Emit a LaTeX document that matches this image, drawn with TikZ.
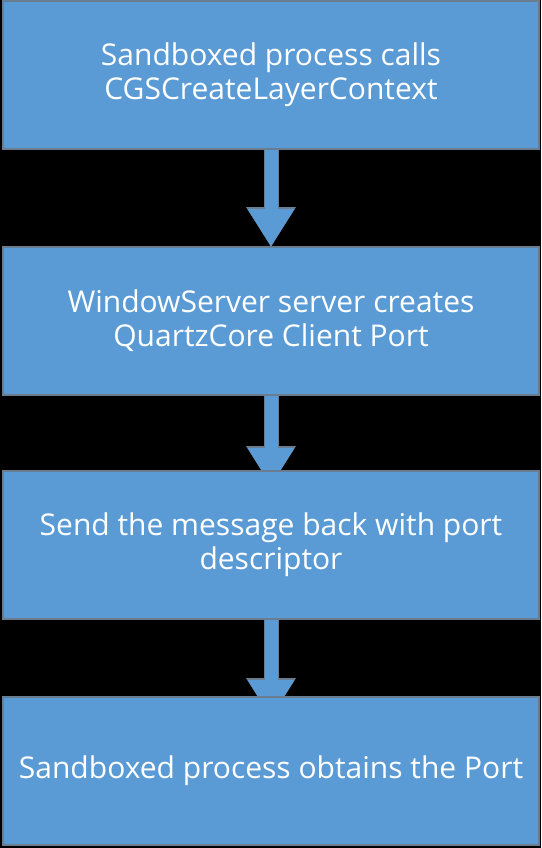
\documentclass[tikz,border=0pt]{standalone}
\usepackage{fontspec}
\setmainfont{Open Sans}
\usetikzlibrary{positioning, arrows.meta}

\definecolor{boxblue}{HTML}{5B9BD5}
\definecolor{boxline}{HTML}{6A7D90}

\pgfdeclarelayer{canvas}
\pgfdeclarelayer{links}
\pgfsetlayers{canvas,links,main}

\begin{document}
\begin{tikzpicture}[
  x=1pt, y=1pt,
  font=\fontsize{30}{34}\selectfont,
  stepbox/.style={draw=boxline, line width=1.5pt, fill=boxblue, text=white,
    minimum width=536pt, minimum height=148pt, align=center,
    inner sep=0pt, outer sep=0pt},
  flow/.style={boxblue, line width=13pt,
    -{Triangle[length=38pt, width=44pt]},
    preaction={draw=boxline, line width=15pt,
      -{Triangle[length=40pt, width=47pt]}}},
]
  % page and black ground
  \begin{pgfonlayer}{canvas}
    \fill[black] (0,0) rectangle (541,-848);
  \end{pgfonlayer}
  \useasboundingbox (0,0) rectangle (541,-848);

  % the four steps
  \node[stepbox] (call) at (271,-75) {Sandboxed process calls\\CGSCreateLayerContext};
  \node[stepbox, below=98pt of call] (create) {WindowServer server creates\\QuartzCore Client Port};
  \node[stepbox, below=76pt of create] (reply) {Send the message back with port\\descriptor};
  \node[stepbox, below=78pt of reply] (obtain) {Sandboxed process obtains the Port};

  % arrows sit under the boxes
  \begin{pgfonlayer}{links}
    \draw[flow] (call.south) -- (create.north);
    \draw[flow, shorten >=-15pt] (create.south) -- (reply.north);
    \draw[flow, shorten >=-21pt] (reply.south) -- (obtain.north);
  \end{pgfonlayer}
\end{tikzpicture}
\end{document}
